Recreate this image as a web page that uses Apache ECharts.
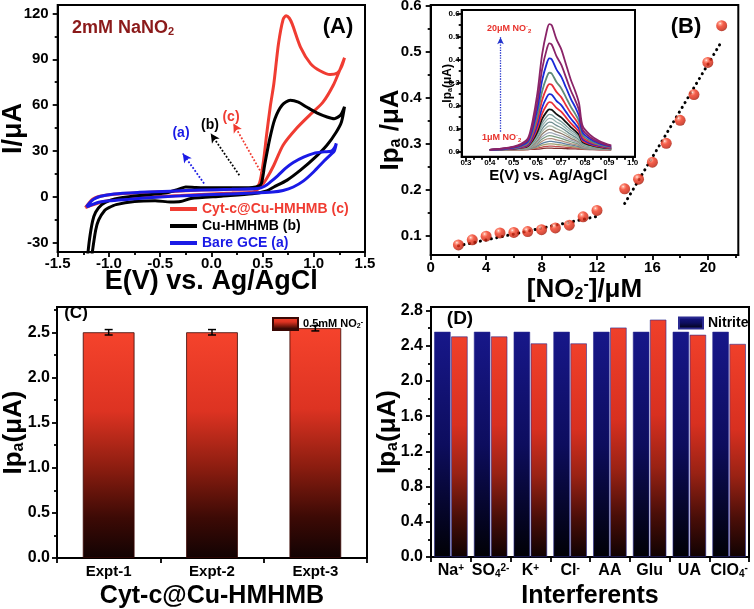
<!DOCTYPE html>
<html><head><meta charset="utf-8">
<script src="https://cdn.jsdelivr.net/npm/echarts@6/dist/echarts.min.js"></script>
<style>html,body{margin:0;padding:0;background:#fff}#c{width:754px;height:609px}</style>
</head><body><div id="c"></div>
<script>
const F = '"Liberation Sans", Arial, Helvetica, sans-serif';

// ---------- Panel A : cyclic voltammograms ----------
const cvCytE = [-1.23,-1.20,-1.16,-1.10,-0.95,-0.70,-0.40,-0.10,0.20,0.42,0.47,0.51,0.54,0.575,0.61,0.655,0.70,0.73,0.76,0.79,0.87,0.97,1.06,1.16,1.23,1.27,1.30,1.26,1.19,1.09,0.96,0.83,0.70,0.61,0.54,0.48,0.40,0.20,0.00,-0.30,-0.60,-0.90,-1.05,-1.15,-1.23];
const cvCytI = [-7,-4.5,-1.5,0.3,1.8,2.8,3.6,4.5,5,5.5,9,24,41,59,74,100,116,118.5,117,113,98,87,82.5,80,81,85,91,84,73,62,53.5,44.7,33.8,20.7,12,6.5,3,2.5,2,1,0,-1.5,-3,-5,-7];
const cvCuE = [-1.21,-1.19,-1.16,-1.13,-1.07,-0.99,-0.88,-0.70,-0.45,-0.32,-0.25,-0.15,0.00,0.20,0.40,0.46,0.49,0.52,0.57,0.62,0.69,0.77,0.85,0.93,1.03,1.13,1.20,1.26,1.30,1.27,1.22,1.13,1.00,0.87,0.74,0.61,0.54,0.40,0.10,-0.20,-0.30,-0.40,-0.55,-0.75,-0.93,-1.00,-1.04,-1.10,-1.13,-1.17];
const cvCuI = [-40,-28,-16,-10,-5,-2.2,-0.5,1,2.5,5,6.5,6.2,6,6,6.2,7,9,20.7,38,51,60,63.3,62,58.8,55,52.3,51.2,53.4,59,49,42.5,34,25,17.5,11,6.5,4,2,0.5,-1,-3,-3.3,-2.5,-3,-5,-7,-8.7,-15,-22,-40];
const cvGceE = [-1.22,-1.19,-1.15,-1.08,-0.95,-0.70,-0.40,-0.10,0.20,0.45,0.52,0.58,0.65,0.72,0.80,0.90,1.00,1.10,1.17,1.20,1.22,1.20,1.17,1.10,1.00,0.90,0.80,0.70,0.60,0.40,0.10,-0.20,-0.50,-0.80,-1.00,-1.10,-1.18,-1.22];
const cvGceI = [-6.5,-4,-1.5,0.5,2,3,3.8,4.5,5,5.5,7,10,14,18.5,22.5,26,28.5,29.5,30,32,35,30,28,23.5,16.5,10.5,6.5,4.2,3.2,2.5,1.8,1,0,-1.5,-2.5,-3.5,-5.5,-6.5];
const aTicksX = [-1.5,-1.0,-0.5,0.0,0.5,1.0,1.5], aMinorX = [-1.25,-0.75,-0.25,0.25,0.75,1.25];
const aTicksY = [-30,0,30,60,90,120], aMinorY = [-15,15,45,75,105];

// ---------- Panel B : calibration ----------
const no2Conc = [2,3,4,5,6,7,8,9,10,11,12,14,15,16,17,18,19,20,21];
const no2Ipa  = [0.080,0.091,0.099,0.106,0.107,0.109,0.113,0.117,0.123,0.141,0.155,0.202,0.223,0.260,0.301,0.351,0.407,0.477,0.557];
const fitLowX = [2,12],  fitLowY = [0.078,0.142];
const fitHighX = [14,21], fitHighY = [0.170,0.523];
const bTicksX = [0,4,8,12,16,20], bMinorX = [2,6,10,14,18,22];
const bTicksY = [0.1,0.2,0.3,0.4,0.5,0.6], bMinorY = [0.15,0.25,0.35,0.45,0.55];

// ---------- Inset : DPV curves ----------
const dpvE = [0.40,0.45,0.50,0.53,0.56,0.58,0.60,0.62,0.64,0.65,0.66,0.68,0.70,0.72,0.74,0.76,0.775,0.79,0.82,0.86,0.91];
const dpvCurves = [
 [0.008,0.013,0.022,0.033,0.057,0.134,0.254,0.424,0.528,0.555,0.550,0.489,0.446,0.380,0.314,0.260,0.210,0.112,0.074,0.046,0.027],
 [0.008,0.013,0.020,0.029,0.050,0.114,0.216,0.360,0.448,0.471,0.466,0.415,0.378,0.323,0.267,0.221,0.179,0.096,0.064,0.040,0.024],
 [0.008,0.012,0.018,0.026,0.044,0.100,0.187,0.310,0.386,0.406,0.402,0.358,0.326,0.279,0.231,0.191,0.155,0.084,0.056,0.036,0.022],
 [0.008,0.011,0.016,0.023,0.038,0.085,0.159,0.263,0.326,0.343,0.340,0.303,0.276,0.236,0.196,0.162,0.132,0.072,0.048,0.031,0.020],
 [0.008,0.011,0.015,0.021,0.034,0.074,0.137,0.225,0.280,0.294,0.291,0.260,0.237,0.202,0.168,0.140,0.114,0.062,0.042,0.028,0.018],
 [0.008,0.010,0.014,0.019,0.030,0.064,0.117,0.192,0.238,0.250,0.248,0.221,0.202,0.173,0.144,0.119,0.098,0.054,0.037,0.025,0.016],
 [0.008,0.010,0.013,0.017,0.027,0.056,0.101,0.165,0.205,0.215,0.213,0.190,0.174,0.149,0.124,0.103,0.085,0.047,0.033,0.022,0.015],
 [0.008,0.010,0.012,0.016,0.024,0.048,0.087,0.142,0.175,0.184,0.182,0.163,0.149,0.128,0.107,0.089,0.073,0.041,0.029,0.020,0.014],
 [0.008,0.010,0.012,0.015,0.022,0.043,0.077,0.125,0.154,0.162,0.160,0.144,0.131,0.113,0.094,0.079,0.065,0.037,0.026,0.019,0.013],
 [0.008,0.009,0.011,0.014,0.020,0.039,0.070,0.112,0.138,0.145,0.144,0.129,0.118,0.101,0.085,0.071,0.059,0.034,0.024,0.018,0.013],
 [0.008,0.009,0.011,0.013,0.019,0.036,0.062,0.099,0.122,0.128,0.127,0.114,0.104,0.090,0.075,0.063,0.052,0.031,0.022,0.016,0.012],
 [0.008,0.009,0.011,0.013,0.017,0.032,0.055,0.087,0.107,0.112,0.111,0.100,0.091,0.079,0.066,0.056,0.046,0.028,0.020,0.015,0.012],
 [0.008,0.009,0.010,0.012,0.016,0.028,0.048,0.076,0.093,0.097,0.096,0.086,0.079,0.069,0.058,0.049,0.041,0.025,0.019,0.014,0.011],
 [0.008,0.009,0.010,0.011,0.015,0.025,0.042,0.065,0.079,0.083,0.082,0.074,0.068,0.059,0.050,0.043,0.036,0.022,0.017,0.013,0.011],
 [0.008,0.009,0.010,0.011,0.014,0.022,0.036,0.055,0.067,0.070,0.069,0.063,0.058,0.050,0.043,0.037,0.031,0.020,0.015,0.012,0.010],
 [0.008,0.008,0.009,0.010,0.012,0.019,0.030,0.045,0.055,0.057,0.057,0.051,0.047,0.041,0.035,0.031,0.026,0.017,0.014,0.011,0.010],
 [0.008,0.008,0.009,0.010,0.011,0.017,0.025,0.036,0.043,0.045,0.045,0.041,0.038,0.033,0.029,0.025,0.022,0.015,0.012,0.011,0.009],
 [0.008,0.008,0.009,0.009,0.010,0.014,0.020,0.028,0.033,0.034,0.034,0.031,0.029,0.026,0.023,0.020,0.018,0.013,0.011,0.010,0.009],
 [0.008,0.008,0.008,0.009,0.009,0.012,0.015,0.020,0.023,0.024,0.024,0.022,0.021,0.019,0.017,0.016,0.014,0.011,0.010,0.009,0.008],
 [0.008,0.008,0.008,0.008,0.009,0.010,0.011,0.013,0.015,0.015,0.015,0.014,0.014,0.013,0.012,0.012,0.011,0.010,0.009,0.008,0.008]
];
const dpvColors = ['#8a2468','#8a2468','#1a2ad8','#5f8a78','#e8303a','#1a2ad8','#e8303a','#111111','#7a9a9a','#9ab5b0','#6e8e90','#a8b8a8','#8c7a6a','#a0a8b8','#7a9a80','#b09080','#6080a0','#a0a070','#c05050','#803030'];
const inTicksX = [0.3,0.4,0.5,0.6,0.7,0.8,0.9,1.0];
const inMinorX = [0.333,0.367,0.433,0.467,0.533,0.567,0.633,0.667,0.733,0.767,0.833,0.867,0.933,0.967];
const inTicksY = [0.0,0.1,0.2,0.3,0.4,0.5,0.6], inMinorY = [0.05,0.15,0.25,0.35,0.45,0.55];

// ---------- Panel C : reproducibility ----------
const exptCats = ['Expt-1','Expt-2','Expt-3'];
const exptIpa = [2.500,2.500,2.545];
const exptErr = [0.030,0.030,0.030];
const cTicksY = [0.0,0.5,1.0,1.5,2.0,2.5], cMinorY = [0.25,0.75,1.25,1.75,2.25,2.75];

// ---------- Panel D : interference ----------
const intCats = ['Na+','SO42-','K+','Cl-','AA','Glu','UA','ClO4-'];
const nitriteIpa = [2.558,2.558,2.558,2.558,2.558,2.558,2.558,2.558];
const interfIpa  = [2.505,2.505,2.426,2.426,2.606,2.696,2.524,2.420];
const dTicksY = [0.0,0.4,0.8,1.2,1.6,2.0,2.4,2.8], dMinorY = [0.2,0.6,1.0,1.4,1.8,2.2,2.6];

const zip = (a,b) => a.map((v,i)=>[v,b[i]]);
const tickStyle = {color:'#000', width:1.8};
function mainVal(grid, min, max, ticks, fmt, fs, margin, pos, name, nameGap, nameFs, rich){
  return {type:'value', gridIndex:grid, min, max, position:pos,
    axisLine:{show:true,onZero:false,lineStyle:{color:'#000',width:2}},
    axisTick:{show:true,customValues:ticks,length:5,lineStyle:tickStyle},
    axisLabel:{customValues:ticks,formatter:fmt,fontSize:fs,fontWeight:'bold',fontFamily:F,color:'#000',margin},
    splitLine:{show:false},
    name, nameLocation:'middle', nameGap, nameMoveOverlap:false,
    nameTextStyle:{fontSize:nameFs,fontWeight:'bold',fontFamily:F,color:'#000',rich}};
}
function minorVal(grid, min, max, ticks, pos){
  return {type:'value', gridIndex:grid, min, max, position:pos,
    axisLine:{show:false,onZero:false}, axisTick:{show:true,customValues:ticks,length:3,lineStyle:tickStyle},
    axisLabel:{show:false}, splitLine:{show:false}};
}
const f1 = v => v.toFixed(1), f0 = v => String(Math.round(v));
const richName = fs => ({b:{fontSize:fs,fontWeight:'bold',fontFamily:F,color:'#000'},
  s:{fontSize:Math.round(fs*0.6),fontWeight:'bold',fontFamily:F,color:'#000',verticalAlign:'bottom',lineHeight:fs*0.9},
  p:{fontSize:Math.round(fs*0.6),fontWeight:'bold',fontFamily:F,color:'#000',verticalAlign:'top',lineHeight:fs*0.9}});

const intLabels = {'Na+':'{b|Na}{p|+}','SO42-':'{b|SO}{s|4}{p|2-}','K+':'{b|K}{p|+}','Cl-':'{b|Cl}{p|-}',
  'AA':'{b|AA}','Glu':'{b|Glu}','UA':'{b|UA}','ClO4-':'{b|ClO}{s|4}{p|-}'};

const redGrad = {type:'linear',x:0,y:0,x2:0,y2:1,colorStops:[
  {offset:0,color:'#f5432c'},{offset:0.35,color:'#dd3322'},{offset:0.6,color:'#8c1d10'},{offset:0.82,color:'#3d0a05'},{offset:1,color:'#120303'}]};
const redGradD = {type:'linear',x:0,y:0,x2:0,y2:1,colorStops:[
  {offset:0,color:'#f0402a'},{offset:0.4,color:'#d83020'},{offset:0.62,color:'#9a2214'},{offset:0.82,color:'#4a0e08'},{offset:1,color:'#100202'}]};
const blueGrad = {type:'linear',x:0,y:0,x2:0,y2:1,colorStops:[
  {offset:0,color:'#17178a'},{offset:0.5,color:'#0d0d5e'},{offset:0.85,color:'#040420'},{offset:1,color:'#010105'}]};
const sphere = {type:'radial',x:0.36,y:0.3,r:0.72,colorStops:[
  {offset:0,color:'#fff4f0'},{offset:0.14,color:'#ff8e76'},{offset:0.4,color:'#f2381f'},{offset:0.85,color:'#c8200c'},{offset:1,color:'#9a1606'}]};

const grids = [
  {left:57.7, top:5, width:307.3, height:247},
  {left:430.7, top:5, width:307.6, height:250},
  {left:461.7, top:10, width:173.3, height:146.7, backgroundColor:'#fff'},
  {left:57, top:307, width:310, height:251},
  {left:431, top:307, width:318, height:250}
].map(g => Object.assign({show:true, borderColor:'#000', borderWidth:2, outerBoundsMode:'none', containLabel:false}, g));

const xAxes = [
  mainVal(0,-1.5,1.5,aTicksX,f1,15,4,'bottom','E(V) vs. Ag/AgCl',16,27),
  mainVal(1,0,22.2,bTicksX,f0,15,5,'bottom','{b|[NO}{s|2}{p|-}{b|]/μM}',22,26,richName(26)),
  mainVal(2,0.282,1.01,inTicksX,f1,8,2,'bottom','E(V) vs. Ag/AgCl',12,15),
  {type:'category', gridIndex:3, data:exptCats, position:'bottom',
    axisLine:{show:true,lineStyle:{color:'#000',width:2}}, axisTick:{show:true,length:5,lineStyle:tickStyle},
    axisLabel:{fontSize:15,fontWeight:'bold',fontFamily:F,color:'#000',margin:6},
    name:'Cyt-c@Cu-HMHMB', nameLocation:'middle', nameGap:26, nameMoveOverlap:false,
    nameTextStyle:{fontSize:25,fontWeight:'bold',fontFamily:F,color:'#000'}},
  {type:'category', gridIndex:4, data:intCats, position:'bottom',
    axisLine:{show:true,lineStyle:{color:'#000',width:2}}, axisTick:{show:true,length:5,lineStyle:tickStyle},
    axisLabel:{fontSize:16,fontWeight:'bold',fontFamily:F,color:'#000',margin:6,interval:0,
      formatter:v=>intLabels[v], rich:richName(16)},
    name:'Interferents', nameLocation:'middle', nameGap:27, nameMoveOverlap:false,
    nameTextStyle:{fontSize:25,fontWeight:'bold',fontFamily:F,color:'#000'}},
  minorVal(0,-1.5,1.5,aMinorX,'bottom'),
  minorVal(1,0,22.2,bMinorX,'bottom'),
  minorVal(2,0.282,1.01,inMinorX,'bottom')
];
const yAxes = [
  mainVal(0,-36,125.5,aTicksY,f0,15,9,'left','I/μA',31,27),
  mainVal(1,0.058,0.602,bTicksY,f1,15,9,'left','{b|Ip}{s|a}{b| /μA}',27,26,richName(26)),
  mainVal(2,-0.022,0.616,inTicksY,f1,8,2,'left','{b|Ip}{s|a}{b|(μA)}',8,12,richName(12)),
  mainVal(3,0,2.78,cTicksY,f1,16,7,'left','{b|Ip}{s|a}{b|(μA)}',30,26,richName(26)),
  mainVal(4,0,2.84,dTicksY,f1,16,8,'left','{b|Ip}{s|a}{b|(μA)}',30,26,richName(26)),
  minorVal(0,-36,125.5,aMinorY,'left'),
  minorVal(1,0.058,0.602,bMinorY,'left'),
  minorVal(2,-0.022,0.616,inMinorY,'left'),
  minorVal(3,0,2.78,cMinorY,'left'),
  minorVal(4,0,2.84,dMinorY,'left')
];

const cvLine = (name, E, I, color, z, mark) => ({type:'line', name, xAxisIndex:0, yAxisIndex:0,
  data:zip(E,I), symbol:'none', smooth:0.25, z, lineStyle:{color, width:3}, itemStyle:{color},
  markLine: mark ? {silent:true, symbol:['none','arrow'], symbolSize:[7,9], label:{show:false},
    lineStyle:{type:'dotted', width:1.8, color}, data:[mark]} : undefined});

const series = [
  cvLine('Cu-HMHMB (b)', cvCuE, cvCuI, '#000000', 3, [{coord:[0.273,14.2]},{coord:[-0.006,41.4]}]),
  cvLine('Bare GCE (a)', cvGceE, cvGceI, '#1a1ae6', 4, [{coord:[-0.071,8.8]},{coord:[-0.279,28.4]}]),
  cvLine('Cyt-c@Cu-HMHMB (c)', cvCytE, cvCytI, '#f03c32', 2, [{coord:[0.492,15.3]},{coord:[0.215,48]}]),
  {type:'line', xAxisIndex:1, yAxisIndex:1, data:zip(fitLowX,fitLowY), symbol:'none', z:2,
    lineStyle:{color:'#000', width:3, type:[0.1,5.5], cap:'round'}},
  {type:'line', xAxisIndex:1, yAxisIndex:1, data:zip(fitHighX,fitHighY), symbol:'none', z:2,
    lineStyle:{color:'#000', width:3, type:[0.1,5.5], cap:'round'}},
  {type:'scatter', xAxisIndex:1, yAxisIndex:1, data:zip(no2Conc,no2Ipa), symbol:'circle', symbolSize:11, z:3,
    itemStyle:{color:sphere}}
];
dpvCurves.slice().reverse().forEach((c, k) => {
  const i = dpvCurves.length - 1 - k;
  series.push({type:'line', xAxisIndex:2, yAxisIndex:2, data:zip(dpvE,c), symbol:'none', smooth:0.3, z:5,
    lineStyle:{color:dpvColors[i], width: i < 8 ? 1.8 : 1.3},
    markLine: i === 0 ? {silent:true, symbol:['none','arrow'], symbolSize:[5,7], label:{show:false},
      lineStyle:{type:'dotted',width:1.3,color:'#2233cc'}, data:[[{coord:[0.445,0.087]},{coord:[0.445,0.497]}]]} : undefined});
});
series.push(
  {type:'bar', name:'0.5mM NO2-', xAxisIndex:3, yAxisIndex:3, data:exptIpa, barWidth:'50%',
    itemStyle:{color:redGrad, borderColor:'#3a0804', borderWidth:0.8}},
  {type:'custom', xAxisIndex:3, yAxisIndex:3, z:5, data:exptIpa.map((v,i)=>[i,v,exptErr[i]]),
    renderItem:(params, api) => {
      const x = api.value(0), y = api.value(1), e = api.value(2);
      const t = api.coord([x, y+e]), b = api.coord([x, y-e]), hw = 4;
      const st = {stroke:'#000', lineWidth:1.5};
      return {type:'group', children:[
        {type:'line', shape:{x1:t[0],y1:t[1],x2:b[0],y2:b[1]}, style:st},
        {type:'line', shape:{x1:t[0]-hw,y1:t[1],x2:t[0]+hw,y2:t[1]}, style:st},
        {type:'line', shape:{x1:b[0]-hw,y1:b[1],x2:b[0]+hw,y2:b[1]}, style:st}]};
    }},
  {type:'bar', name:'Nitrite', xAxisIndex:4, yAxisIndex:4, data:nitriteIpa, barGap:'4%', barCategoryGap:'16%',
    itemStyle:{color:blueGrad, borderColor:'#2a2a90', borderWidth:0.6}},
  {type:'bar', name:'Interferents', xAxisIndex:4, yAxisIndex:4, data:interfIpa, barGap:'4%', barCategoryGap:'16%',
    itemStyle:{color:redGradD, borderColor:'#2a2a90', borderWidth:0.6}}
);

const legTxt = {fontFamily:F, fontWeight:'bold', color:'#000'};
const legends = [
  {left:165, top:197, orient:'vertical', itemWidth:27, itemHeight:4, itemGap:3, icon:'rect', selectedMode:false,
    textStyle:Object.assign({}, legTxt, {fontSize:14}),
    data:[{name:'Cyt-c@Cu-HMHMB (c)', textStyle:{color:'#f03c32'}},
          {name:'Cu-HMHMB (b)', textStyle:{color:'#000'}},
          {name:'Bare GCE (a)', textStyle:{color:'#1a1ae6'}}]},
  {left:267, top:312, itemWidth:25, itemHeight:12, itemGap:4, icon:'rect', selectedMode:false,
    textStyle:Object.assign({}, legTxt, {fontSize:11, rich:richName(11)}),
    formatter:()=>'{b|0.5mM NO}{s|2}{p|-}', data:['0.5mM NO2-']},
  {left:673, top:311, itemWidth:24, itemHeight:11, itemGap:4, icon:'rect', selectedMode:false,
    textStyle:Object.assign({}, legTxt, {fontSize:14}), data:['Nitrite']}
];

const T = (text, x, y, size, fill, align, rich) => ({type:'text', x, y, z:50,
  style:{text, font:'bold '+size+'px '+F, fill, textAlign:align||'left', textVerticalAlign:'middle', rich}});
const smallRich = c => ({a:{fontSize:9,fontWeight:'bold',fontFamily:F,color:c},
     p:{fontSize:6,fontWeight:'bold',fontFamily:F,color:c,verticalAlign:'top',lineHeight:11},
     s:{fontSize:6,fontWeight:'bold',fontFamily:F,color:c,verticalAlign:'bottom',lineHeight:11}});
const graphic = [
  T('{a|2mM NaNO}{s|2}', 72, 28, 18, '#8b1a1a', 'left',
    {a:{fontSize:18,fontWeight:'bold',fontFamily:F,color:'#8b1a1a'},
     s:{fontSize:11,fontWeight:'bold',fontFamily:F,color:'#8b1a1a',verticalAlign:'bottom',lineHeight:16}}),
  T('(A)', 338, 27, 22, '#000', 'center'),
  T('(a)', 181, 133, 14, '#1a1ae6', 'center'),
  T('(b)', 210, 125, 14, '#000', 'center'),
  T('(c)', 231, 117, 14, '#f03c32', 'center'),
  T('(B)', 686, 27, 22, '#000', 'center'),
  T('{a|20μM NO}{p|-}{s|2}', 487, 29, 9, '#e8322c', 'left', smallRich('#e8322c')),
  T('{a|1μM NO}{p|-}{s|2}', 482, 138, 9, '#e8322c', 'left', smallRich('#e8322c')),
  T('(C)', 76, 313, 17, '#000', 'center'),
  T('(D)', 460, 319, 19, '#000', 'center')
];

const chart = echarts.init(document.getElementById('c'), null, {renderer:'canvas'});
chart.setOption({animation:false, backgroundColor:'#fff', grid:grids, xAxis:xAxes, yAxis:yAxes,
  legend:legends, series, graphic});
</script></body></html>
